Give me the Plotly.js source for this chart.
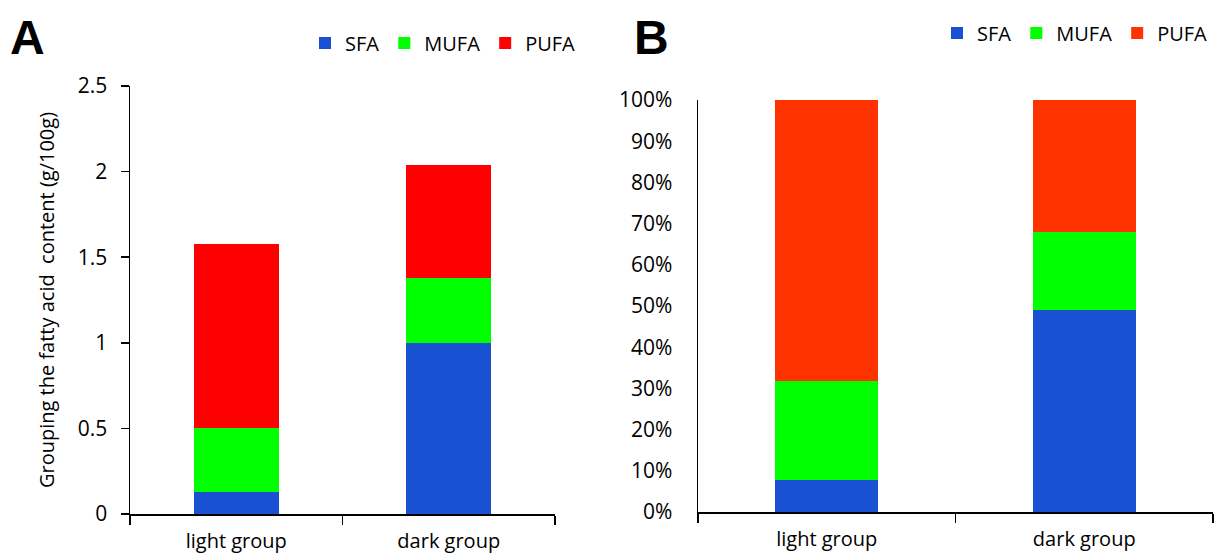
<!DOCTYPE html>
<html><head><meta charset="utf-8">
<script src="https://cdn.plot.ly/plotly-3.0.1.min.js"></script>
<style>html,body{margin:0;padding:0;background:#fff}#chart{width:1214px;height:556px}</style>
</head><body><div id="chart"></div>
<script>
const categories = ['light group', 'dark group'];
// Panel A: content (g/100g)
const sfaA  = [0.13, 1.00];
const mufaA = [0.37, 0.38];
const pufaA = [1.08, 0.66];
// Panel B: proportion (%)
const sfaB  = [7.8, 49.0];
const mufaB = [24.0, 19.0];
const pufaB = [68.2, 32.0];
const yTicksA = [0, 0.5, 1, 1.5, 2, 2.5];
const yTickTextA = ['0', '0.5', '1', '1.5', '2', '2.5'];
const yTicksB = [0, 10, 20, 30, 40, 50, 60, 70, 80, 90, 100];
const yTickTextB = ['0%', '10%', '20%', '30%', '40%', '50%', '60%', '70%', '80%', '90%', '100%'];

const BLUE = '#1851D1', GREEN = '#00FF00', RED_A = '#FF0000', RED_B = '#FF3300';
const FONT = 'Open Sans, Liberation Sans, Arial, sans-serif';
const W = 1214, H = 556;

function bar(name, y, color, xa, ya, lg) {
  return {type: 'bar', name: name, x: categories, y: y, xaxis: xa, yaxis: ya,
    legend: lg, marker: {color: color, line: {width: 0}}, hoverinfo: 'skip'};
}

const data = [
  bar('SFA', sfaA, BLUE, 'x', 'y', 'legend'),
  bar('MUFA', mufaA, GREEN, 'x', 'y', 'legend'),
  bar('PUFA', pufaA, RED_A, 'x', 'y', 'legend'),
  bar('SFA', sfaB, BLUE, 'x2', 'y2', 'legend2'),
  bar('MUFA', mufaB, GREEN, 'x2', 'y2', 'legend2'),
  bar('PUFA', pufaB, RED_B, 'x2', 'y2', 'legend2')
];

const px = v => v / W, py = v => (H - v) / H;

const xBase = {type: 'category', showline: true, linecolor: '#000', linewidth: 1.5,
  ticks: 'outside', tickson: 'boundaries', ticklen: 9, tickcolor: '#000', tickwidth: 1.5,
  ticklabelstandoff: 8,
  showgrid: false, zeroline: false, tickfont: {family: FONT, size: 20, color: '#000'},
  fixedrange: true};

const layout = {
  width: W, height: H, margin: {l: 0, r: 0, t: 0, b: 0},
  paper_bgcolor: '#fff', plot_bgcolor: '#fff',
  barmode: 'stack', bargap: 0.6,
  font: {family: FONT, color: '#000'},
  xaxis: Object.assign({}, xBase, {domain: [px(130), px(555)], anchor: 'y'}),
  yaxis: {domain: [py(514), py(86)], range: [0, 2.5], anchor: 'x',
    tickvals: yTicksA, ticktext: yTickTextA, showline: true, linecolor: '#000', linewidth: 1.5,
    ticks: 'outside', ticklen: 8, tickcolor: '#000', tickwidth: 1.5, ticklabelstandoff: 9,
    showgrid: false, zeroline: false, tickfont: {family: FONT, size: 21, color: '#000'},
    title: {text: 'Grouping the fatty acid  content (g/100g)', font: {family: FONT, size: 20, color: '#000'}, standoff: 18},
    fixedrange: true},
  xaxis2: Object.assign({}, xBase, {domain: [px(698), px(1213)], anchor: 'y2'}),
  yaxis2: {domain: [py(512), py(100)], range: [0, 100], anchor: 'x2',
    tickvals: yTicksB, ticktext: yTickTextB, showline: true, linecolor: '#000', linewidth: 1.5,
    ticks: '', ticklabelstandoff: 20,
    showgrid: false, zeroline: false, tickfont: {family: FONT, size: 21, color: '#000'},
    fixedrange: true},
  legend: {orientation: 'h', x: px(305), xanchor: 'left', y: py(43), yanchor: 'middle',
    font: {family: FONT, size: 20, color: '#000'}, traceorder: 'normal', bgcolor: 'rgba(0,0,0,0)'},
  legend2: {orientation: 'h', x: px(937), xanchor: 'left', y: py(33), yanchor: 'middle',
    font: {family: FONT, size: 20, color: '#000'}, traceorder: 'normal', bgcolor: 'rgba(0,0,0,0)'},
  annotations: [
    {text: '<b>A</b>', x: px(8), y: py(37), xref: 'paper', yref: 'paper', xanchor: 'left', yanchor: 'middle',
      showarrow: false, font: {family: 'Liberation Sans, Arial, sans-serif', size: 48, color: '#000'}},
    {text: '<b>B</b>', x: px(632), y: py(37), xref: 'paper', yref: 'paper', xanchor: 'left', yanchor: 'middle',
      showarrow: false, font: {family: 'Liberation Sans, Arial, sans-serif', size: 48, color: '#000'}}
  ]
};

Plotly.newPlot('chart', data, layout, {displayModeBar: false, staticPlot: true});
</script></body></html>
